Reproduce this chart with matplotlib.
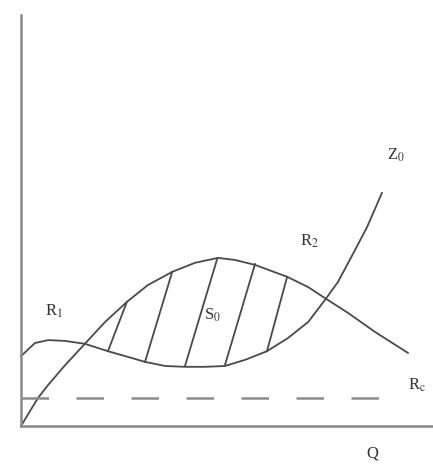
import matplotlib
matplotlib.use("Agg")
import matplotlib.pyplot as plt

plt.rcParams['font.family'] = ['Liberation Serif', 'DejaVu Serif']
plt.rcParams['mathtext.fontset'] = 'stix'

# hill curve R, starting at the origin
r_x = [0, 4.1, 6.6, 10.7, 15.5, 20.4, 25.7, 30.8, 36.7, 42.2, 47.8, 51.9,
       56.8, 64.6, 69.7, 73.8, 79.4, 85.9, 93.9]
r_y = [0, 6.8, 10.0, 14.8, 20.0, 25.3, 30.2, 34.3, 37.5, 39.7, 40.9, 40.4,
       39.2, 36.3, 33.8, 31.1, 27.5, 22.9, 17.8]

# wavy curve Z
z_x = [0, 3.4, 6.6, 10.7, 15.5, 21.1, 26.0, 30.1, 35.0, 39.8, 44.7, 49.5,
       54.4, 59.7, 64.8, 69.7, 73.8, 76.9, 79.9, 84.0, 87.6]
z_y = [17.0, 20.2, 20.9, 20.7, 20.0, 18.2, 16.8, 15.6, 14.6, 14.4, 14.4, 14.6,
       16.1, 18.2, 21.4, 25.3, 30.7, 35.0, 40.6, 48.4, 56.7]

# hatch strokes between the two curves
hatch_x0 = [21.1, 30.1, 39.8, 49.5, 59.7]
hatch_y0 = [18.2, 15.6, 14.6, 14.8, 18.2]
hatch_x1 = [25.7, 36.7, 47.6, 56.8, 64.6]
hatch_y1 = [30.2, 37.5, 40.6, 39.4, 36.3]

# dashed level
level_y = 6.8
level_x = [0, 92]

fig = plt.figure(figsize=(4.33, 4.68), dpi=100)
ax = fig.add_axes([21/433, 42/468, 412/433, 411/468])
ax.set_xlim(0, 100)
ax.set_ylim(0, 100)
ax.spines['top'].set_visible(False)
ax.spines['right'].set_visible(False)
for s in ['left', 'bottom']:
    ax.spines[s].set_color('#8a8a8a')
    ax.spines[s].set_linewidth(1.8)
ax.set_xticks([])
ax.set_yticks([])
ax.patch.set_alpha(0)

lc = '#4a4a4a'
ax.plot(r_x, r_y, color=lc, lw=1.3, clip_on=False)
ax.plot(z_x, z_y, color=lc, lw=1.3, clip_on=False)
for i in range(len(hatch_x0)):
    ax.plot([hatch_x0[i], hatch_x1[i]], [hatch_y0[i], hatch_y1[i]], color=lc, lw=1.3)
ax.plot(level_x, [level_y, level_y], color='#8c8c8c', lw=1.8, dashes=(11, 11))

fs = 12
ax.text(8.0, 28.0, r'R$_1$', fontsize=fs, ha='center', va='center', color='#333')
ax.text(70.1, 45.0, r'R$_2$', fontsize=fs, ha='center', va='center', color='#333')
ax.text(91.0, 65.9, r'Z$_0$', fontsize=fs, ha='center', va='center', color='#333')
ax.text(46.4, 27.0, r'S$_0$', fontsize=fs, ha='center', va='center', color='#333')
ax.text(96.1, 10.0, r'R$_\mathrm{c}$', fontsize=fs, ha='center', va='center', color='#333')
ax.text(85.2, -6.6, 'Q', fontsize=fs, ha='center', va='center', color='#333')

fig.savefig('out.png', dpi=100)
